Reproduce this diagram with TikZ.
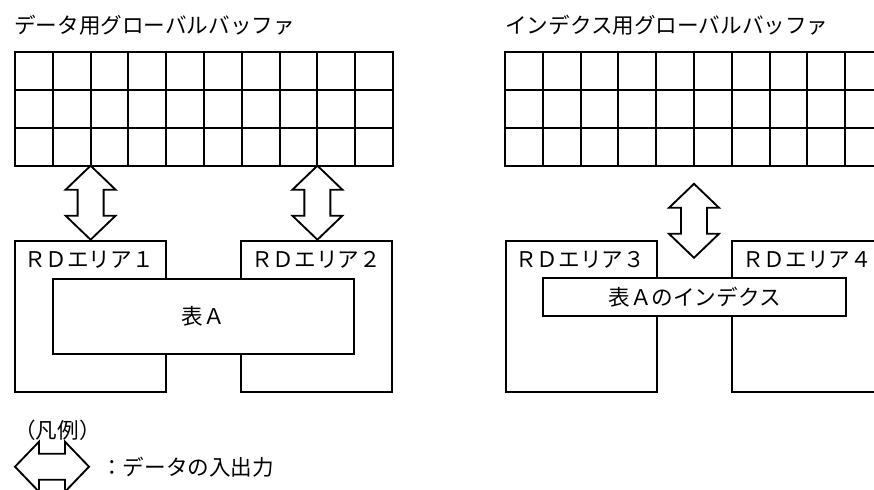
\documentclass[tikz,border=0pt]{standalone}
\usepackage{fontspec}
\usepackage{tikz}
\usetikzlibrary{calc,positioning}
\newfontfamily\jpfont{Noto Sans CJK JP}

\begin{document}
\begin{tikzpicture}[x=0.75pt,y=-0.75pt,
        box/.style={line width=1.4pt,line cap=rect},
        lbl/.style={inner sep=0pt,font=\jpfont\fontsize{16.2}{18}\selectfont},
        buffer/.pic={
            \foreach \i in {0,...,10} \draw[box] (\i*37.8,0) -- (\i*37.8,113.4);
            \foreach \j in {0,...,3} \draw[box] (0,\j*37.8) -- (378,\j*37.8);
        },
        io arrow/.pic={
            \draw[box,fill=white,line join=miter] (0,0) -- (25,24) -- (13,24) -- (13,50) -- (25,50) -- (0,74)
                -- (-25,50) -- (-13,50) -- (-13,24) -- (-25,24) -- cycle;
        }]
                \useasboundingbox (0,0) rectangle (874,489);
                \clip (0,0) rectangle (874,489);
                % global buffers
                \coordinate (dbuf) at (15,52.3);
                \coordinate (ibuf) at (505,52.3);
                \node[lbl, anchor=west] (dtitle) at (14,25) {データ用グローバルバッファ};
                \node[lbl, anchor=west] (ititle) at (505,25) {インデクス用グローバルバッファ};
                \pic at (dbuf) {buffer};
                \pic at (ibuf) {buffer};
                % RD areas for table A
                \draw[box] (15,241) rectangle (166,391.7);
                \draw[box] (241.3,241) rectangle (392.3,391.7);
                \node[lbl] (rd1) at (89,259.5) {ＲＤエリア１};
                \node[lbl] (rd2) at (316,259.5) {ＲＤエリア２};
                \filldraw[box, fill=white] (52.7,279) rectangle (354.3,354);
                \node[lbl] (tblA) at (203.5,316.5) {表Ａ};
                % RD areas for the index
                \draw[box] (505.7,241) rectangle (656.7,391.7);
                \draw[box] (732.3,241) rectangle (883.3,391.7);
                \node[lbl] (rd3) at (580,259.5) {ＲＤエリア３};
                \node[lbl] (rd4) at (807,259.5) {ＲＤエリア４};
                \filldraw[box, fill=white] (543.3,278.3) rectangle (845.7,316);
                \node[lbl] (idxA) at (694.5,297.2) {表Ａのインデクス};
                % input/output arrows
                \pic at ($(dbuf)+(75.6,113.4)$) {io arrow};
                \pic at ($(dbuf)+(302.4,113.4)$) {io arrow};
                \pic at ($(ibuf)+(189,131.5)$) {io arrow};
                % legend
                \node[lbl, anchor=west] (legend) at (14,430) {（凡例）};
                \pic[rotate=90] at (15,466.7) {io arrow};
                \node[lbl, anchor=west] (iolbl) at (101,466.7) {：データの入出力};
\end{tikzpicture}
\end{document}
